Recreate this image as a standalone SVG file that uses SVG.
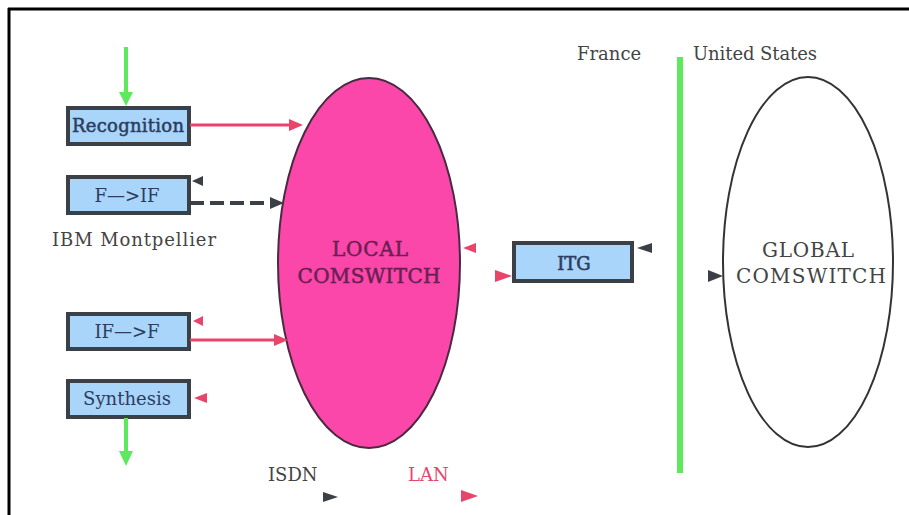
<svg xmlns="http://www.w3.org/2000/svg" width="909" height="515" viewBox="0 0 909 515">
<style>
.box rect{fill:#a9d5fb;stroke:#3a4046;stroke-width:4}
text{font-family:'DejaVu Serif','Liberation Serif',serif}
.bt{font-size:18px;fill:#2c3d5e;text-anchor:middle}
.lbl{font-size:18px;fill:#444}
.big{font-size:20px;text-anchor:middle}
.red{stroke:#e8456a;stroke-width:3;fill:none}
.green{stroke:#5ee85e;stroke-width:4;fill:none}
.tri-red{fill:#e8456a}
.tri-dark{fill:#3a4046}
.tri-green{fill:#5ee85e}
</style>
<rect width="909" height="515" fill="#fff"/>
<path d="M8,9H909M9,8V515" stroke="#000" stroke-width="3" fill="none"/>

<g id="local">
<ellipse cx="369" cy="263" rx="91" ry="185" fill="#fb46aa" stroke="#4a2a40" stroke-width="2"/>
<text x="370" y="256" class="big" fill="#6a2050" stroke="#6a2050" stroke-width="0.5" textLength="76">LOCAL</text>
<text x="369" y="283" class="big" fill="#6a2050" stroke="#6a2050" stroke-width="0.5" textLength="143">COMSWITCH</text>
</g>
<g id="global">
<ellipse cx="808" cy="262" rx="85" ry="185" fill="none" stroke="#333" stroke-width="2"/>
<text x="808" y="257" class="big" fill="#444" textLength="92">GLOBAL</text>
<text x="811" y="283" class="big" fill="#444" textLength="150">COMSWITCH</text>
</g>
<g id="recognition" class="box"><rect x="68" y="108" width="121" height="36"/><text x="128" y="132" class="bt" stroke="#2c3d5e" stroke-width="0.5" textLength="112">Recognition</text></g>
<g id="f-if" class="box"><rect x="68" y="177" width="121" height="36"/><text x="127" y="202" class="bt">F—&gt;IF</text></g>
<g id="if-f" class="box"><rect x="68" y="314" width="121" height="35"/><text x="127" y="338" class="bt">IF—&gt;F</text></g>
<g id="synthesis" class="box"><rect x="68" y="381" width="121" height="36"/><text x="127" y="405" class="bt">Synthesis</text></g>
<g id="itg" class="box"><rect x="514" y="243" width="118" height="38"/><text x="574" y="270" class="bt" font-size="20" stroke="#2c3d5e" stroke-width="0.6">ITG</text></g>

<g id="labels">
<text x="52" y="246" class="lbl" textLength="164">IBM Montpellier</text>
<text x="577" y="60" class="lbl">France</text>
<text x="693" y="60" class="lbl" textLength="124">United States</text>
<text x="268" y="481" class="lbl">ISDN</text>
<text x="408" y="481" class="lbl" fill="#e8456a" style="fill:#e8456a">LAN</text>
</g>

<g id="connectors">
<path d="M126,47V94" class="green"/>
<path d="M119,92L126,106L133,92z" class="tri-green"/>
<path d="M126,418V452" class="green"/>
<path d="M119,451L126,466L133,451z" class="tri-green"/>
<path d="M190,125H292" class="red"/>
<path d="M289,119L303,125L289,131z" class="tri-red"/>
<path d="M190,340H277" class="red"/>
<path d="M274,334L288,340L274,346z" class="tri-red"/>
<path d="M190,203H272" stroke="#3a4046" stroke-width="4" stroke-dasharray="14,6" fill="none"/>
<path d="M270,197L284,203L270,209z" class="tri-dark"/>
<path d="M680,57V473" stroke="#5ee85e" stroke-width="6"/>
<path d="M203,176L192,181L203,186z" class="tri-dark"/>
<path d="M203,316L193,321L203,326z" class="tri-red"/>
<path d="M207,393L194,398L207,403z" class="tri-red"/>
<path d="M476,243L463,248L476,253z" class="tri-red"/>
<path d="M495,270L512,276L495,282z" class="tri-red"/>
<path d="M652,243L637,248L652,253z" class="tri-dark"/>
<path d="M708,270L723,276L708,282z" class="tri-dark"/>
<path d="M323,492L338,497L323,502z" class="tri-dark"/>
<path d="M461,490L478,496L461,502z" class="tri-red"/>
</g>
</svg>
